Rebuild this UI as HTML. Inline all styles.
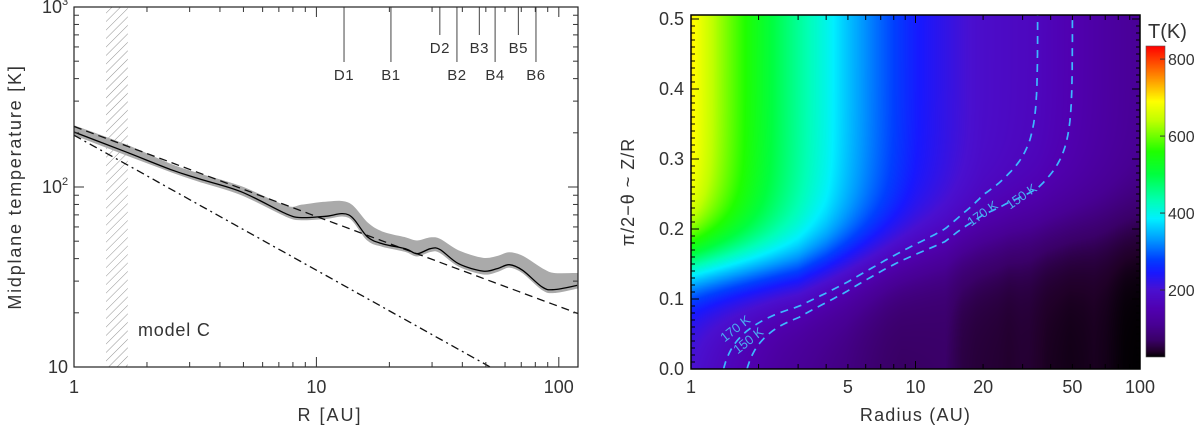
<!DOCTYPE html>
<html><head><meta charset="utf-8">
<style>
html,body{margin:0;padding:0;background:#fff;}
#wrap{position:relative;width:1200px;height:429px;overflow:hidden;font-family:"Liberation Sans",sans-serif;}
svg{position:absolute;left:0;top:0;}
canvas{position:absolute;}
text{font-family:"Liberation Sans",sans-serif;fill:#333;}
</style></head>
<body>
<div id="wrap">
<canvas id="heat" width="449" height="354" style="left:691px;top:15px"></canvas>
<canvas id="cbar" width="19" height="311" style="left:1146px;top:46px"></canvas>
<svg id="svg" width="1200" height="429"></svg>
</div>
<script>
// ---------- data: left panel ----------
const curveR = [1,1.65,2.55,3.28,4.9,7.5,8.7,10.9,13.6,16.2,18.7,23.3,26,29.5,32.3,38.6,48.7,55.7,62.5,71,85.5,95.5,119];
const curveT = [202,156,124,111,94,71,67.6,68.7,70,53,48.4,45.4,42.6,45.4,45,37.5,34.1,35.2,37,34.4,27.8,26.9,28.4];
const bandHi = [218,170,132,118,100,78,79,82,81,63,56,52,50,52,51,44,40,41,43,41,35,33,33];
const bandLo = [196,151,121,108,91,69,66,67,68,51,47,44,41.5,44,43.5,36.5,33,34,36,33.5,27,26,27.5];
const dashedFit = {t0:217, slope:-0.5};
const dashDotFit = {t0:194, slope:-0.75};
const hatchR = [1.356,1.667];
const markNames = ["D1","B1","D2","B2","B3","B4","B5","B6"];
const markR = [13,20.3,32.3,38,47,54.6,68.1,80.5];
const markRow = [1,1,0,1,0,1,0,1];
const leftYTickLabels = ["10","10","10"];
const leftYTickExp = ["","2","3"];
const leftXTickLabels = ["1","10","100"];
// ---------- data: right panel ----------
const topR = [1,2,4,10,20,35,50,120];
const topT = [700,530,400,250,190,170,150,105];
const zcR = [1,3,10,30,100];
const zcV = [0.15,0.14,0.17,0.2,0.22];
const contourLevels = [170,150];
const rightXTicks = [1,5,10,20,50,100];
const rightYTicks = [0,0.1,0.2,0.3,0.4,0.5];
const cbarTicks = [200,400,600,800];
const cmapV = [26,40,70,110,150,200,245,280,330,385,430,500,560,640,690,760,834];
const cmapC = ["#000000","#200028","#3a0068","#480094","#5000b0","#4a10d0","#1818ff","#0040ff","#0098ff","#00f0ff","#00ffb8","#00ff40","#20ff00","#c0ff00","#ffff00","#ff8000","#ff0000"];

const NS="http://www.w3.org/2000/svg";
const svg=document.getElementById('svg');
function mk(tag,attrs,parent){const e=document.createElementNS(NS,tag);for(const k in attrs)e.setAttribute(k,attrs[k]);(parent||svg).appendChild(e);return e;}
const L={x0:74,x1:578,y0:7,y1:367,rmin:1,rmax:120,tmin:10,tmax:1000};
const lx=r=>L.x0+(Math.log10(r)-Math.log10(L.rmin))/(Math.log10(L.rmax)-Math.log10(L.rmin))*(L.x1-L.x0);
const ly=t=>L.y1-(Math.log10(t)-Math.log10(L.tmin))/(Math.log10(L.tmax)-Math.log10(L.tmin))*(L.y1-L.y0);
function interpLog(xs,ys,x){if(x<=xs[0])return ys[0];for(let i=1;i<xs.length;i++){if(x<=xs[i]){const f=(Math.log(x)-Math.log(xs[i-1]))/(Math.log(xs[i])-Math.log(xs[i-1]));return Math.exp(Math.log(ys[i-1])+f*(Math.log(ys[i])-Math.log(ys[i-1])));}}return ys[ys.length-1];}
function interpLin(xs,ys,x){if(x<=xs[0])return ys[0];for(let i=1;i<xs.length;i++){if(x<=xs[i]){const f=(Math.log(x)-Math.log(xs[i-1]))/(Math.log(xs[i])-Math.log(xs[i-1]));return ys[i-1]+f*(ys[i]-ys[i-1]);}}return ys[ys.length-1];}
function smooth(pts,start){let cd=start?('M'+pts[0][0]+','+pts[0][1]):('L'+pts[0][0]+','+pts[0][1]);
for(let i=0;i<pts.length-1;i++){const p0=pts[Math.max(0,i-1)],p1=pts[i],p2=pts[i+1],p3=pts[Math.min(pts.length-1,i+2)];
cd+=`C${(p1[0]+(p2[0]-p0[0])/6).toFixed(1)},${(p1[1]+(p2[1]-p0[1])/6).toFixed(1)} ${(p2[0]-(p3[0]-p1[0])/6).toFixed(1)},${(p2[1]-(p3[1]-p1[1])/6).toFixed(1)} ${p2[0].toFixed(1)},${p2[1].toFixed(1)}`;}return cd;}

const defs=mk('defs',{});
const cp=mk('clipPath',{id:'lclip'},defs);mk('rect',{x:L.x0,y:L.y0,width:L.x1-L.x0,height:L.y1-L.y0},cp);
const pat=mk('pattern',{id:'hatch',width:6,height:6,patternUnits:'userSpaceOnUse',patternTransform:'rotate(45)'},defs);
mk('line',{x1:0,y1:0,x2:0,y2:6,stroke:'#777','stroke-width':0.8},pat);
const gL=mk('g',{'clip-path':'url(#lclip)'});

let h=mk('rect',{x:lx(hatchR[0]),y:L.y0,width:lx(hatchR[1])-lx(hatchR[0]),height:L.y1-L.y0,fill:'url(#hatch)'},gL);

const hiPts=curveR.map((r,i)=>[lx(r),ly(bandHi[i])]);
const loPts=curveR.map((r,i)=>[lx(r),ly(bandLo[i])]).reverse();
let band=mk('path',{d:smooth(hiPts,true)+smooth(loPts,false)+'Z',fill:'#aaa',stroke:'#aaa','stroke-width':1.5,'stroke-linejoin':'round'},gL);

function fitPath(f){let d='';for(let i=0;i<=60;i++){const r=Math.pow(10,Math.log10(L.rmax)*i/60);d+=(i?'L':'M')+lx(r).toFixed(1)+','+ly(f.t0*Math.pow(r,f.slope)).toFixed(1);}return d;}
let fd=mk('path',{d:fitPath(dashedFit),fill:'none',stroke:'#111','stroke-width':1.3,'stroke-dasharray':'8,5'},gL);

let fdd=mk('path',{d:fitPath(dashDotFit),fill:'none',stroke:'#111','stroke-width':1.3,'stroke-dasharray':'8,4,2,4'},gL);

const pts=curveR.map((r,i)=>[lx(r),ly(curveT[i])]);
let cv=mk('path',{d:smooth(pts,true),fill:'none',stroke:'#000','stroke-width':1.3},gL);

markR.forEach((r,i)=>{const yEnd=markRow[i]?62:35;
 const ln=mk('line',{x1:lx(r),y1:L.y0,x2:lx(r),y2:yEnd,stroke:'#444','stroke-width':1});
 
 const t=mk('text',{x:lx(r),y:yEnd+18,'text-anchor':'middle','font-size':15,'letter-spacing':'0.5'});t.textContent=markNames[i];
 });
let fr=mk('rect',{x:L.x0,y:L.y0,width:L.x1-L.x0,height:L.y1-L.y0,fill:'none',stroke:'#222','stroke-width':1.2});

const tk=mk('g',{stroke:'#333','stroke-width':1});

for(let d=0;d<3;d++)for(let m=1;m<10;m++){const r=Math.pow(10,d)*m;if(r>L.rmax||(d==0&&m==1))continue;const x=lx(r),len=m==1?10:5;
 mk('line',{x1:x,y1:L.y1,x2:x,y2:L.y1-len},tk);mk('line',{x1:x,y1:L.y0,x2:x,y2:L.y0+len},tk);}
for(let d=1;d<3;d++)for(let m=1;m<10;m++){const t=Math.pow(10,d)*m;if(m==1&&d==1)continue;const y=ly(t),len=m==1?10:5;
 mk('line',{x1:L.x0,y1:y,x2:L.x0+len,y2:y},tk);mk('line',{x1:L.x1,y1:y,x2:L.x1-len,y2:y},tk);}
leftXTickLabels.forEach((s,i)=>{const t=mk('text',{x:lx(Math.pow(10,i)),y:393,'text-anchor':'middle','font-size':18});t.textContent=s;
 });
leftYTickLabels.forEach((s,i)=>{const y=ly(Math.pow(10,i+1));const t=mk('text',{x:leftYTickExp[i]?62:68,y:y+6,'text-anchor':'end','font-size':18});t.textContent=s;
 
 if(leftYTickExp[i]){const e=mk('text',{x:62,y:y-2,'font-size':11});e.textContent=leftYTickExp[i];}});
let t1=mk('text',{x:0,y:0,'text-anchor':'middle','font-size':18,transform:`translate(21,${(L.y0+L.y1)/2}) rotate(-90)`,'letter-spacing':'1.8'});t1.textContent='Midplane temperature [K]';

let t2=mk('text',{x:(L.x0+L.x1)/2+4,y:421,'text-anchor':'middle','font-size':18,'letter-spacing':'2'});t2.textContent='R [AU]';

let t3=mk('text',{x:138,y:336,'font-size':18,'letter-spacing':'0.8'});t3.textContent='model C';


// ---------- right panel ----------
const R={x0:691,x1:1140,y0:15,y1:369,rmin:1,rmax:100,zmin:0,zmax:0.5057};
const rx=r=>R.x0+Math.log10(r)/2*(R.x1-R.x0);
const ry=z=>R.y1-z/R.zmax*(R.y1-R.y0);
const wz=0.033;
function frac(r,z){const zc=interpLin(zcR,zcV,r);const s=q=>1/(1+Math.exp(-(q-zc)/wz));return (s(z)-s(0))/(s(0.5)-s(0));}
function temp(r,z){const tm=interpLog(curveR,curveT,r),tt=interpLog(topR,topT,r);return tm+(tt-tm)*Math.min(1,frac(r,z));}
const cmRGB=cmapC.map(c=>[parseInt(c.substr(1,2),16),parseInt(c.substr(3,2),16),parseInt(c.substr(5,2),16)]);
function cmap(v){if(v<=cmapV[0])return cmRGB[0];for(let i=1;i<cmapV.length;i++){if(v<=cmapV[i]){const f=(v-cmapV[i-1])/(cmapV[i]-cmapV[i-1]);return cmRGB[i-1].map((a,k)=>a+f*(cmRGB[i][k]-a));}}return cmRGB[cmRGB.length-1];}
(function(){const c=document.getElementById('heat'),ctx=c.getContext('2d'),W=c.width,H=c.height,img=ctx.createImageData(W,H);
for(let j=0;j<H;j++){const z=(H-0.5-j)/H*R.zmax;for(let i=0;i<W;i++){const r=Math.pow(10,(i+0.5)/W*2);const col=cmap(temp(r,z));const o=(j*W+i)*4;img.data[o]=col[0];img.data[o+1]=col[1];img.data[o+2]=col[2];img.data[o+3]=255;}}
ctx.putImageData(img,0,0);})();
(function(){const c=document.getElementById('cbar'),ctx=c.getContext('2d'),H=c.height;
for(let j=0;j<H;j++){const v=cmapV[0]+(H-0.5-j)/H*(cmapV[cmapV.length-1]-cmapV[0]);const col=cmap(v);ctx.fillStyle=`rgb(${col.map(Math.round).join(',')})`;ctx.fillRect(0,j,c.width,1);}})();
contourLevels.forEach((lev,k)=>{let d='';const N=150;
 for(let j=0;j<=N;j++){const z=j/N*R.zmax;let lo=0,hi=2;
  if(temp(1,z)<lev)continue;
  for(let it=0;it<40;it++){const m=(lo+hi)/2;if(temp(Math.pow(10,m),z)>lev)lo=m;else hi=m;}
  d+=(d?'L':'M')+rx(Math.pow(10,lo)).toFixed(1)+','+ry(z).toFixed(1);}
 const p=mk('path',{d:d,fill:'none',stroke:'#3db8ff','stroke-width':1.7,'stroke-dasharray':'8,6'});
 });
[[738,332,'170 K',-38],[751,344,'150 K',-38],[985,217,'170 K',-35],[1024,200,'150 K',-35]].forEach(a=>{
 const t=mk('text',{x:a[0],y:a[1],'font-size':13,'text-anchor':'middle',transform:`rotate(${a[3]} ${a[0]} ${a[1]})`});t.style.fill='#4aaef0';t.textContent=a[2];
 });
let fr2=mk('rect',{x:R.x0,y:R.y0,width:R.x1-R.x0,height:R.y1-R.y0,fill:'none',stroke:'#000','stroke-width':1.5});

const tk2=mk('g',{stroke:'#000','stroke-width':1});

for(let d=0;d<2;d++)for(let m=1;m<10;m++){const r=Math.pow(10,d)*m;if(d==0&&m==1)continue;const x=rx(r),len=m==1?8:5;
 mk('line',{x1:x,y1:R.y1,x2:x,y2:R.y1-len},tk2);mk('line',{x1:x,y1:R.y0,x2:x,y2:R.y0+len},tk2);}
for(let i=1;i<=50;i++){const y=ry(i/100),len=i%10==0?8:4;mk('line',{x1:R.x0,y1:y,x2:R.x0+len,y2:y},tk2);mk('line',{x1:R.x1,y1:y,x2:R.x1-len,y2:y},tk2);}
rightXTicks.forEach(v=>{const t=mk('text',{x:rx(v),y:393,'text-anchor':'middle','font-size':18});t.textContent=String(v);
 });
rightYTicks.forEach(v=>{const t=mk('text',{x:684,y:ry(v)+6,'text-anchor':'end','font-size':18});t.textContent=v.toFixed(1);
 });
let t4=mk('text',{x:0,y:0,'text-anchor':'middle','font-size':18,'letter-spacing':'1',transform:`translate(634,${(R.y0+R.y1)/2}) rotate(-90)`});t4.textContent='π/2−θ ~ Z/R';

let t5=mk('text',{x:(R.x0+R.x1)/2,y:421,'text-anchor':'middle','font-size':18,'letter-spacing':'1.2'});t5.textContent='Radius (AU)';

const cb={y0:46,y1:357,v0:cmapV[0],v1:cmapV[cmapV.length-1]};
const cy=v=>cb.y1-(v-cb.v0)/(cb.v1-cb.v0)*(cb.y1-cb.y0);
let cbf=mk('rect',{x:1146,y:46,width:19,height:311,fill:'none',stroke:'#555','stroke-width':0.6});

cbarTicks.forEach(v=>{mk('line',{x1:1160,y1:cy(v),x2:1165,y2:cy(v),stroke:'#333'});
 const t=mk('text',{x:1168,y:cy(v)+6,'font-size':16});t.textContent=String(v);
 });
let t6=mk('text',{x:1148,y:38,'font-size':20});t6.textContent='T(K)';

</script>
</body></html>
